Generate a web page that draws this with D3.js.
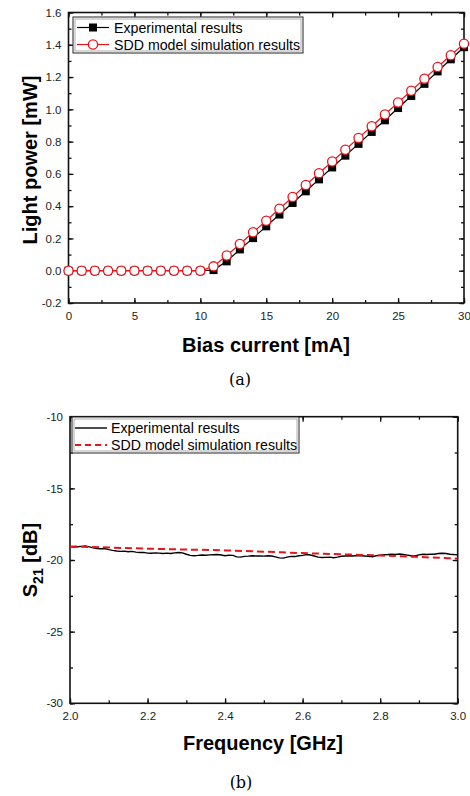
<!DOCTYPE html>
<html>
<head>
<meta charset="utf-8">
<script src="https://cdn.jsdelivr.net/npm/d3@7"></script>
<style>
  body { margin: 0; background: #fff; }
  svg { display: block; font-family: "Liberation Sans", Arial, sans-serif; }
</style>
</head>
<body>
<div id="chart"></div>
<script>
// (a) L-I curve
var biasCurrent = [0,1,2,3,4,5,6,7,8,9,10,11,12,13,14,15,16,17,18,19,20,21,22,23,24,25,26,27,28,29,30];
var expPower = [0,0,0,0,0,0,0,0,0,0,0,0.004,0.058,0.132,0.202,0.275,0.348,0.42,0.492,0.566,0.64,0.713,0.786,0.86,0.932,1.008,1.083,1.158,1.235,1.31,1.385];
var simPower = [0,0,0,0,0,0,0,0,0,0,0,0.027,0.094,0.166,0.238,0.31,0.384,0.457,0.531,0.604,0.677,0.75,0.823,0.895,0.968,1.042,1.115,1.19,1.262,1.335,1.407];
var powerTicks = [-0.2,0,0.2,0.4,0.6,0.8,1.0,1.2,1.4,1.6];
var currentTicks = [0,5,10,15,20,25,30];

// (b) S21 response
var freqExp = d3.range(0, 101).map(function (i) { return 2 + i / 100; });
var s21Exp = [-19.07,-19.10,-19.08,-19.05,-19.02,-19.08,-19.15,-19.20,-19.22,-19.20,
  -19.28,-19.33,-19.37,-19.40,-19.38,-19.42,-19.40,-19.45,-19.48,-19.47,
  -19.52,-19.53,-19.50,-19.52,-19.55,-19.52,-19.55,-19.50,-19.48,-19.50,
  -19.60,-19.68,-19.70,-19.68,-19.65,-19.67,-19.64,-19.63,-19.62,-19.65,
  -19.70,-19.66,-19.68,-19.78,-19.80,-19.75,-19.73,-19.70,-19.72,-19.71,
  -19.73,-19.70,-19.72,-19.78,-19.85,-19.87,-19.80,-19.75,-19.76,-19.70,
  -19.68,-19.62,-19.65,-19.72,-19.80,-19.83,-19.82,-19.80,-19.84,-19.80,
  -19.74,-19.72,-19.70,-19.72,-19.69,-19.70,-19.72,-19.75,-19.77,-19.70,
  -19.66,-19.63,-19.62,-19.60,-19.62,-19.58,-19.62,-19.66,-19.70,-19.72,
  -19.64,-19.60,-19.62,-19.60,-19.60,-19.55,-19.53,-19.55,-19.60,-19.62,-19.63];
var freqSim = [2.0,2.1,2.2,2.3,2.4,2.5,2.6,2.7,2.8,2.9,3.0];
var s21Sim = [-19.05,-19.13,-19.21,-19.27,-19.33,-19.42,-19.52,-19.60,-19.69,-19.79,-19.90];
var s21Ticks = [-30,-25,-20,-15,-10];
var freqTicks = [2.0,2.2,2.4,2.6,2.8,3.0];

var svg = d3.select("#chart").append("svg")
  .attr("width", 470)
  .attr("height", 796);

//plain hyphen instead of d3's unicode minus
function fmt(spec) {
  var f = d3.format(spec);
  return function (d) { return f(d).replace("\u2212", "-"); };
}

//draws a framed plot with inward ticks on all four sides
function frame(x, y, xMajor, xMinor, yMajor, yMinor, xFmt, yFmt) {
  var g = svg.append("g");
  var x0 = x.range()[0], x1 = x.range()[1], y0 = y.range()[0], y1 = y.range()[1];

  g.append("g").attr("transform", "translate(0," + y0 + ")")
    .call(d3.axisBottom(x).tickValues(xMajor).tickSize(-5).tickPadding(9).tickFormat(xFmt));
  g.append("g").attr("transform", "translate(0," + y0 + ")")
    .call(d3.axisBottom(x).tickValues(xMinor).tickSize(-3).tickFormat(""));
  g.append("g").attr("transform", "translate(0," + y1 + ")")
    .call(d3.axisTop(x).tickValues(xMajor).tickSize(-5).tickFormat(""));
  g.append("g").attr("transform", "translate(0," + y1 + ")")
    .call(d3.axisTop(x).tickValues(xMinor).tickSize(-3).tickFormat(""));

  g.append("g").attr("transform", "translate(" + x0 + ",0)")
    .call(d3.axisLeft(y).tickValues(yMajor).tickSize(-5).tickPadding(7).tickFormat(yFmt));
  g.append("g").attr("transform", "translate(" + x0 + ",0)")
    .call(d3.axisLeft(y).tickValues(yMinor).tickSize(-3).tickFormat(""));
  g.append("g").attr("transform", "translate(" + x1 + ",0)")
    .call(d3.axisRight(y).tickValues(yMajor).tickSize(-5).tickFormat(""));
  g.append("g").attr("transform", "translate(" + x1 + ",0)")
    .call(d3.axisRight(y).tickValues(yMinor).tickSize(-3).tickFormat(""));

  g.selectAll(".domain").remove();
  g.selectAll(".tick line").attr("stroke", "#111").attr("stroke-width", 1.3);
  g.selectAll(".tick text").attr("fill", "#222").style("font-size", "11.5px");

  g.append("rect")
    .attr("x", x0).attr("y", y1)
    .attr("width", x1 - x0).attr("height", y0 - y1)
    .attr("fill", "none").attr("stroke", "#111").attr("stroke-width", 1.6);
  return g;
}

function legendBox(x0, y0, w, h) {
  svg.append("rect").attr("x", x0).attr("y", y0).attr("width", w).attr("height", h)
    .attr("fill", "#fff").attr("stroke", "#222").attr("stroke-width", 1);
  svg.append("rect").attr("x", x0 + 2).attr("y", y0 + 2).attr("width", w - 4).attr("height", h - 4)
    .attr("fill", "none").attr("stroke", "#999").attr("stroke-width", 0.8);
}

// ---------- (a) ----------
var xA = d3.scaleLinear().domain([0, 30]).range([68.5, 464]);
var yA = d3.scaleLinear().domain([-0.2, 1.6]).range([303, 12.5]);

frame(xA, yA, currentTicks, d3.range(0, 31, 2.5), powerTicks, d3.range(-0.2, 1.61, 0.1),
  fmt("d"), fmt(".1f"));

var lineA = d3.line().x(function (d) { return xA(d[0]); }).y(function (d) { return yA(d[1]); });
var expA = biasCurrent.map(function (c, i) { return [c, expPower[i]]; });
var simA = biasCurrent.map(function (c, i) { return [c, simPower[i]]; });

svg.append("path").attr("d", lineA(expA)).attr("fill", "none").attr("stroke", "#000").attr("stroke-width", 1.2);
svg.append("g").selectAll("rect").data(expA).enter().append("rect")
  .attr("x", function (d) { return xA(d[0]) - 4; })
  .attr("y", function (d) { return yA(d[1]) - 4; })
  .attr("width", 8).attr("height", 8).attr("fill", "#000");

svg.append("path").attr("d", lineA(simA)).attr("fill", "none").attr("stroke", "#e8141c").attr("stroke-width", 1.2);
svg.append("g").selectAll("circle").data(simA).enter().append("circle")
  .attr("cx", function (d) { return xA(d[0]); })
  .attr("cy", function (d) { return yA(d[1]); })
  .attr("r", 4.6).attr("fill", "#fff").attr("stroke", "#e8141c").attr("stroke-width", 1.3);

// legend (a)
legendBox(73, 17, 230, 36);
svg.append("line").attr("x1", 77).attr("x2", 109).attr("y1", 27.5).attr("y2", 27.5).attr("stroke", "#000").attr("stroke-width", 1.2);
svg.append("rect").attr("x", 89).attr("y", 23.5).attr("width", 8).attr("height", 8).attr("fill", "#000");
svg.append("line").attr("x1", 77).attr("x2", 109).attr("y1", 44.5).attr("y2", 44.5).attr("stroke", "#e8141c").attr("stroke-width", 1.2);
svg.append("circle").attr("cx", 93).attr("cy", 44.5).attr("r", 4.6).attr("fill", "#fff").attr("stroke", "#e8141c").attr("stroke-width", 1.3);
svg.append("text").attr("x", 114).attr("y", 32.5).style("font-size", "14.2px").text("Experimental results");
svg.append("text").attr("x", 114).attr("y", 50).style("font-size", "14.2px").text("SDD model simulation results");

// axis titles (a)
svg.append("text").attr("transform", "translate(37,160) rotate(-90)")
  .attr("text-anchor", "middle").style("font-size", "20px").style("font-weight", "bold")
  .text("Light power [mW]");
svg.append("text").attr("x", 266).attr("y", 352)
  .attr("text-anchor", "middle").style("font-size", "20px").style("font-weight", "bold")
  .text("Bias current [mA]");
svg.append("text").attr("x", 240).attr("y", 385)
  .attr("text-anchor", "middle").style("font-family", "'DejaVu Serif', serif").style("font-size", "16px")
  .text("(a)");

// ---------- (b) ----------
var xB = d3.scaleLinear().domain([2, 3]).range([70, 457.7]);
var yB = d3.scaleLinear().domain([-30, -10]).range([703.3, 416.7]);

frame(xB, yB, freqTicks, d3.range(2, 3.001, 0.1), s21Ticks, d3.range(-30, -9.9, 2.5),
  fmt(".1f"), fmt("d"));

var lineB = d3.line().x(function (d) { return xB(d[0]); }).y(function (d) { return yB(d[1]); });
svg.append("path")
  .attr("d", lineB(freqExp.map(function (f, i) { return [f, s21Exp[i]]; })))
  .attr("fill", "none").attr("stroke", "#000").attr("stroke-width", 1.4);
svg.append("path")
  .attr("d", lineB.curve(d3.curveMonotoneX)(freqSim.map(function (f, i) { return [f, s21Sim[i]]; })))
  .attr("fill", "none").attr("stroke", "#e8141c").attr("stroke-width", 2).attr("stroke-dasharray", "7,4");

// legend (b)
legendBox(72, 417, 227, 36);
svg.append("line").attr("x1", 75).attr("x2", 107).attr("y1", 428).attr("y2", 428).attr("stroke", "#000").attr("stroke-width", 1.4);
svg.append("line").attr("x1", 75).attr("x2", 107).attr("y1", 445).attr("y2", 445).attr("stroke", "#e8141c").attr("stroke-width", 2).attr("stroke-dasharray", "6,4");
svg.append("text").attr("x", 111).attr("y", 433).style("font-size", "14.2px").text("Experimental results");
svg.append("text").attr("x", 111).attr("y", 450).style("font-size", "14.2px").text("SDD model simulation results");

// axis titles (b)
var s21 = svg.append("text").attr("transform", "translate(37,560) rotate(-90)")
  .attr("text-anchor", "middle").style("font-size", "20px").style("font-weight", "bold");
s21.append("tspan").text("S");
s21.append("tspan").attr("dy", 6).style("font-size", "14px").text("21");
s21.append("tspan").attr("dy", -6).text(" [dB]");
svg.append("text").attr("x", 263).attr("y", 750)
  .attr("text-anchor", "middle").style("font-size", "20px").style("font-weight", "bold")
  .text("Frequency [GHz]");
svg.append("text").attr("x", 241).attr("y", 788)
  .attr("text-anchor", "middle").style("font-family", "'DejaVu Serif', serif").style("font-size", "16px")
  .text("(b)");
</script>
</body>
</html>
